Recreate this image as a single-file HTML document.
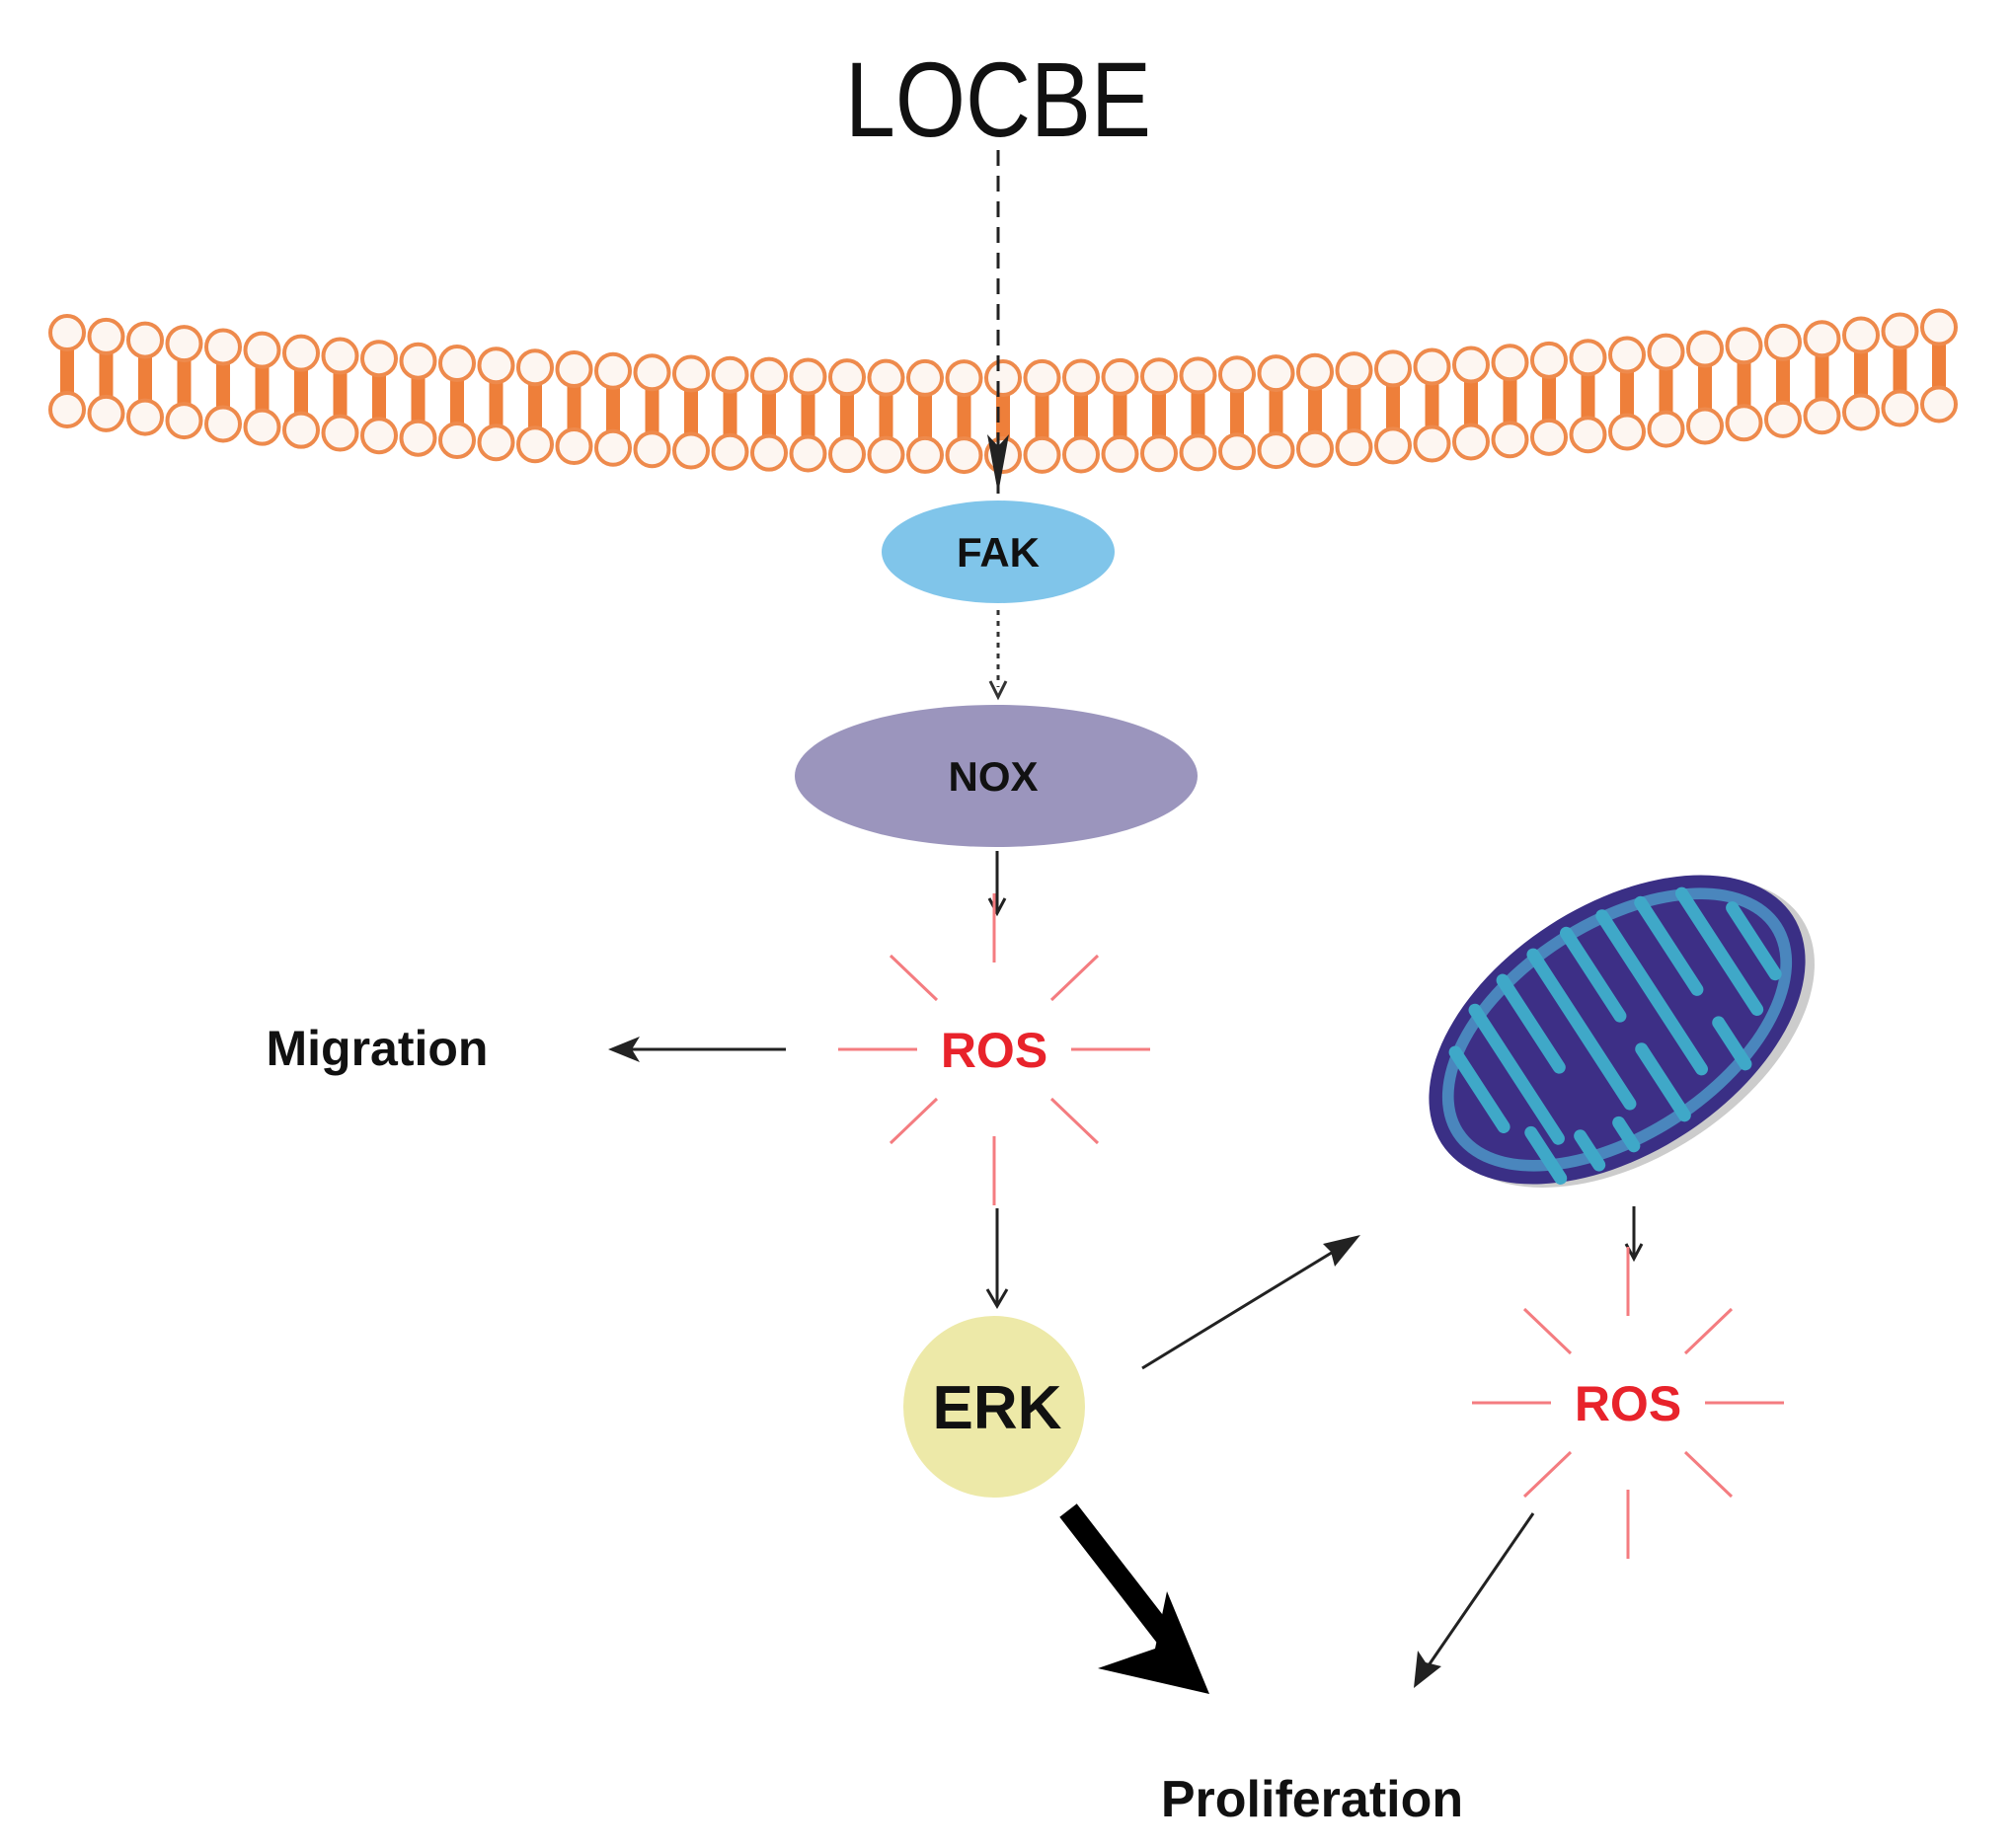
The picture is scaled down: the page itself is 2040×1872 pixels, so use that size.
<!DOCTYPE html>
<html><head><meta charset="utf-8"><style>
html,body{margin:0;padding:0;background:#fff;}
svg{display:block;}
text{font-family:"Liberation Sans",Arial,sans-serif;}
</style></head><body>
<svg id="s" width="2040" height="1872" viewBox="0 0 2040 1872" xmlns="http://www.w3.org/2000/svg">
<defs>
<marker id="ah" viewBox="0 0 10 10" refX="9" refY="5" markerWidth="7" markerHeight="7" orient="auto" markerUnits="userSpaceOnUse">
</marker>
</defs>
<g id="mem"></g>
<text x="1011" y="138" font-size="108" text-anchor="middle" fill="#111" textLength="310" lengthAdjust="spacingAndGlyphs">LOCBE</text>
<line x1="1011" y1="152" x2="1011" y2="470" stroke="#222" stroke-width="3" stroke-dasharray="16,10"/>
<path d="M1000 440 L1011 500 L1022 440 L1011 452 Z" fill="#222"/>
<line x1="1011" y1="470" x2="1011" y2="500" stroke="#222" stroke-width="3"/>
<ellipse cx="1011" cy="559" rx="118" ry="52" fill="#80c5ea"/>
<text x="1011" y="574" font-size="42" font-weight="bold" text-anchor="middle" fill="#111">FAK</text>
<line x1="1011" y1="618" x2="1011" y2="696" stroke="#333" stroke-width="3" stroke-dasharray="5,6"/>
<path d="M1003 690 L1011 706 L1019 690" fill="none" stroke="#333" stroke-width="3"/>
<ellipse cx="1009" cy="786" rx="204" ry="72" fill="#9b95bd"/>
<text x="1006" y="801" font-size="42" font-weight="bold" text-anchor="middle" fill="#111">NOX</text>
<g stroke="#222" stroke-width="3" fill="none">
<line x1="1010" y1="862" x2="1010" y2="924"/><path d="M1002 910 L1010 925 L1018 910"/>
<line x1="1010" y1="1224" x2="1010" y2="1322"/><path d="M1000 1306 L1010 1323 L1020 1306"/>
<line x1="796" y1="1063" x2="620" y2="1063"/>
<line x1="1655" y1="1222" x2="1655" y2="1274"/><path d="M1647 1260 L1655 1275 L1663 1260"/>
<line x1="1157" y1="1386" x2="1370" y2="1256"/>
<line x1="1553" y1="1533" x2="1436" y2="1703"/>
</g>
<path d="M616 1063 L648 1050 L640 1063 L648 1076 Z" fill="#222"/>
<path d="M1378 1251 L1340 1260 L1348 1268 L1352 1283 Z" fill="#222"/>
<path d="M1432 1710 L1436 1672 L1444 1684 L1460 1688 Z" fill="#222"/>
<line x1="1082" y1="1530" x2="1198" y2="1680" stroke="#000" stroke-width="22"/>
<path d="M1225 1716 L1112 1690 L1170 1670 L1182 1612 Z" fill="#000"/>
<g id="ros1" transform="translate(1007,1063)"></g>
<g id="ros2" transform="translate(1649,1421)"></g>
<text x="382" y="1079" font-size="50" font-weight="bold" text-anchor="middle" fill="#111">Migration</text>
<circle cx="1007" cy="1425" r="92" fill="#ede9a8"/>
<text x="1010" y="1447" font-size="62" font-weight="bold" text-anchor="middle" fill="#111">ERK</text>
<g transform="translate(1638,1043) rotate(-33)">
<ellipse cx="6" cy="8" rx="212" ry="126" fill="#999" opacity="0.5"/>
<ellipse cx="0" cy="0" rx="212" ry="126" fill="#3a2f85"/>
<ellipse cx="0" cy="0" rx="198" ry="113" fill="#4a86bd"/>
<ellipse cx="0" cy="0" rx="186" ry="101" fill="#3d2f86"/>
<g stroke="#3fa8c8" stroke-width="13" stroke-linecap="round" fill="none">
<path d="M-150 -70 L-150 20"/><path d="M-110 -95 L-110 60"/><path d="M-70 -105 L-70 0"/>
<path d="M-30 -110 L-30 70"/><path d="M10 -110 L10 -10"/><path d="M50 -105 L50 80"/>
<path d="M90 -95 L90 10"/><path d="M130 -80 L130 60"/>
<path d="M-130 95 L-130 40"/><path d="M-90 105 L-90 70"/><path d="M-50 108 L-50 80"/>
<path d="M10 110 L10 30"/><path d="M90 100 L90 50"/><path d="M165 -40 L165 40"/>
</g>
</g>
<text x="1329" y="1840" font-size="52" font-weight="bold" text-anchor="middle" fill="#111">Proliferation</text>
</svg>
<script>
var NS="http://www.w3.org/2000/svg";
function el(p,t,a){var e=document.createElementNS(NS,t);for(var k in a)e.setAttribute(k,a[k]);p.appendChild(e);return e;}
var mem=document.getElementById("mem");
function topY(x){var t=(x-68)/(1987-68);return 337+ (1-(2*t-1)*(2*t-1))*50 - t*8;}
for(var x=68;x<=1990;x+=39.5){
 var y=topY(x);
 el(mem,"rect",{x:x-7,y:y+12,width:14,height:54,fill:"#ee7f3a"});
}
for(var x=68;x<=1990;x+=39.5){
 var y=topY(x);
 el(mem,"circle",{cx:x,cy:y,r:17,fill:"#fdf6f1",stroke:"#ee8a4c","stroke-width":4});
 el(mem,"circle",{cx:x,cy:y+78,r:17,fill:"#fdf6f1",stroke:"#ee8a4c","stroke-width":4});
}
function ros(id){
 var g=document.getElementById(id);
 var lines=[[0,-158,0,-88],[0,88,0,158],[-158,0,-78,0],[78,0,158,0],
  [-105,-95,-58,-50],[58,-50,105,-95],[-105,95,-58,50],[58,50,105,95]];
 lines.forEach(function(l){el(g,"line",{x1:l[0],y1:l[1],x2:l[2],y2:l[3],stroke:"#f47c80","stroke-width":3});});
 var t=el(g,"text",{x:0,y:18,"font-size":50,"font-weight":"bold","text-anchor":"middle",fill:"#e8232b"});
 t.textContent="ROS";
}
ros("ros1");ros("ros2");
</script>
</body></html>
